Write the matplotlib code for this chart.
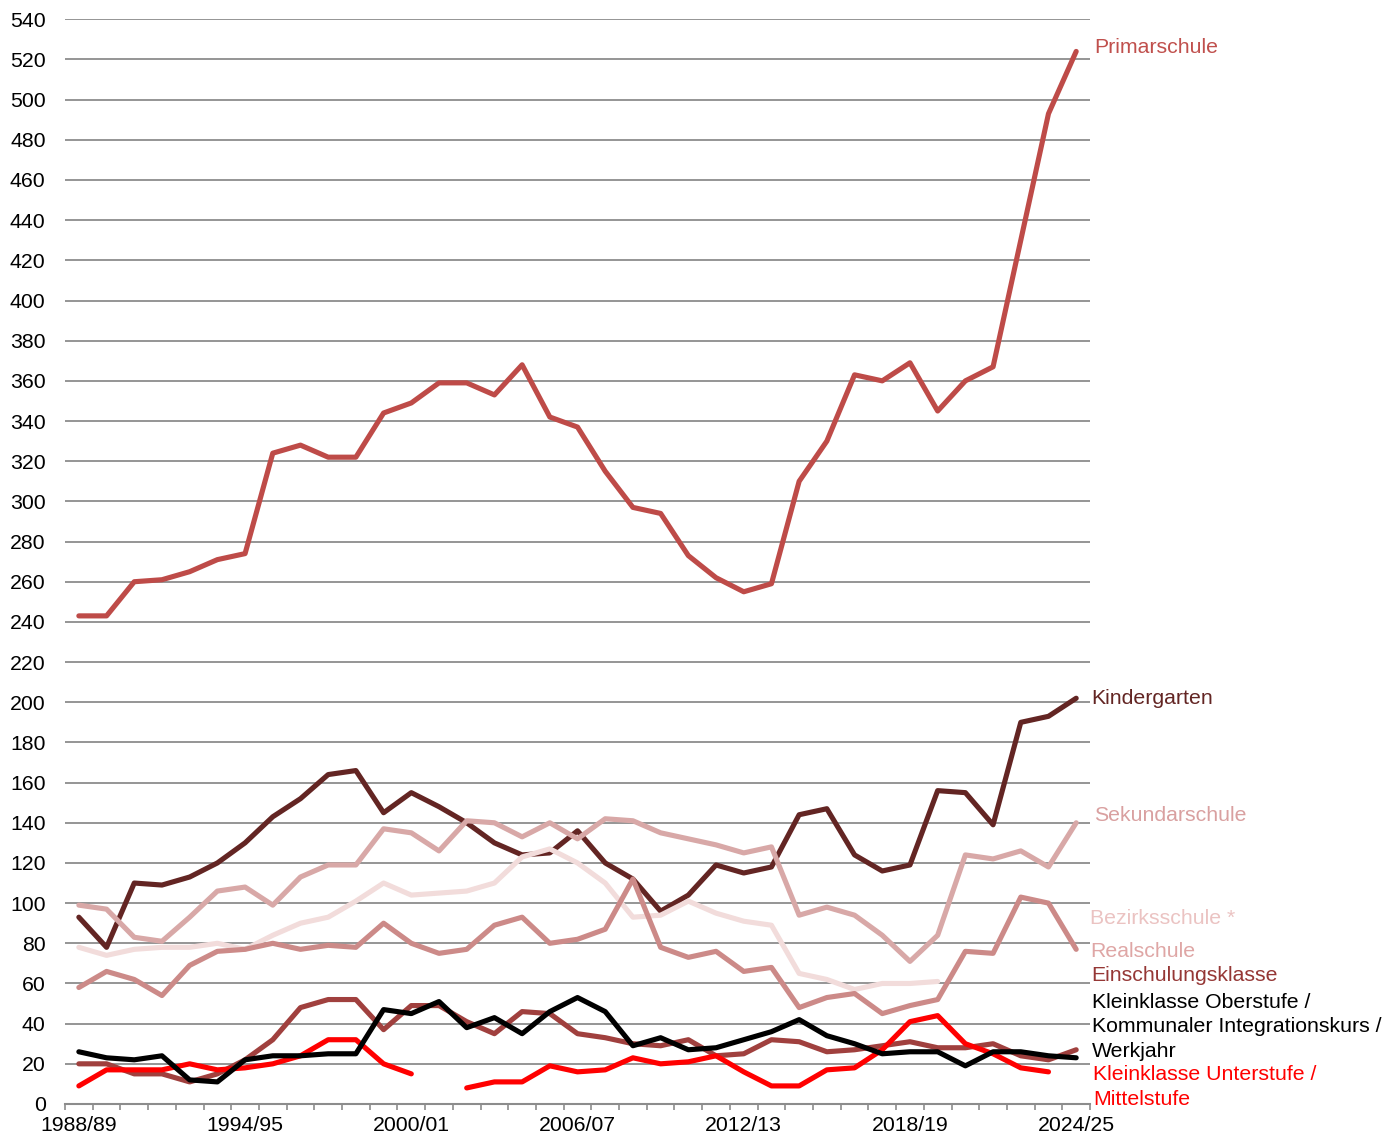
import numpy as np
from matplotlib import pyplot as plt

plt.rcParams['font.family'] = ['Liberation Sans', 'DejaVu Sans']

years = ["1988/89", "1989/90", "1990/91", "1991/92", "1992/93", "1993/94",
         "1994/95", "1995/96", "1996/97", "1997/98", "1998/99", "1999/00",
         "2000/01", "2001/02", "2002/03", "2003/04", "2004/05", "2005/06",
         "2006/07", "2007/08", "2008/09", "2009/10", "2010/11", "2011/12",
         "2012/13", "2013/14", "2014/15", "2015/16", "2016/17", "2017/18",
         "2018/19", "2019/20", "2020/21", "2021/22", "2022/23", "2023/24",
         "2024/25"]

nan = np.nan
primarschule = [243, 243, 260, 261, 265, 271, 274, 324, 328, 322, 322, 344, 349, 359, 359, 353,
                368, 342, 337, 315, 297, 294, 273, 262, 255, 259, 310, 330, 363, 360, 369, 345,
                360, 367, 430, 493, 524]
kindergarten = [93, 78, 110, 109, 113, 120, 130, 143, 152, 164, 166, 145, 155, 148, 140, 130,
                124, 125, 136, 120, 112, 96, 104, 119, 115, 118, 144, 147, 124, 116, 119, 156,
                155, 139, 190, 193, 202]
sekundarschule = [99, 97, 83, 81, 93, 106, 108, 99, 113, 119, 119, 137, 135, 126, 141, 140,
                  133, 140, 132, 142, 141, 135, 132, 129, 125, 128, 94, 98, 94, 84, 71, 84,
                  124, 122, 126, 118, 140]
bezirksschule = [78, 74, 77, 78, 78, 80, 77, 84, 90, 93, 101, 110, 104, 105, 106, 110,
                 123, 127, 120, 110, 93, 94, 101, 95, 91, 89, 65, 62, 57, 60, 60, 61,
                 nan, nan, nan, nan, nan]
realschule = [58, 66, 62, 54, 69, 76, 77, 80, 77, 79, 78, 90, 80, 75, 77, 89,
              93, 80, 82, 87, 112, 78, 73, 76, 66, 68, 48, 53, 55, 45, 49, 52,
              76, 75, 103, 100, 77]
einschulung = [20, 20, 15, 15, 11, 15, 22, 32, 48, 52, 52, 37, 49, 49, 41, 35,
               46, 45, 35, 33, 30, 29, 32, 24, 25, 32, 31, 26, 27, 29, 31, 28,
               28, 30, 24, 22, 27]
kk_oberstufe = [26, 23, 22, 24, 12, 11, 22, 24, 24, 25, 25, 47, 45, 51, 38, 43,
                35, 46, 53, 46, 29, 33, 27, 28, 32, 36, 42, 34, 30, 25, 26, 26,
                19, 26, 26, 24, 23]
kk_unterstufe = [9, 17, 17, 17, 20, 17, 18, 20, 24, 32, 32, 20, 15, nan, 8, 11,
                 11, 19, 16, 17, 23, 20, 21, 24, 16, 9, 9, 17, 18, 27, 41, 44,
                 30, 25, 18, 16, nan]

# (values, line colour, label lines, label colour, label x, label baselines)
series = [
    (primarschule, '#BE4B48', ["Primarschule"], '#C0504D', 36.66, [523.0]),
    (kindergarten, '#632523', ["Kindergarten"], '#632523', 36.55, [199.0]),
    (sekundarschule, '#D8A8A7', ["Sekundarschule"], '#D9A0A0', 36.63, [141.0]),
    (bezirksschule, '#F2DCDB', ["Bezirksschule *"], '#EBC3C2', 36.5, [89.8]),
    (realschule, '#CC8A88', ["Realschule"], '#DFA6A5', 36.5, [73.3]),
    (einschulung, '#A0403E', ["Einschulungsklasse"], '#953735', 36.54, [61.0]),
    (kk_unterstufe, '#FF0000', ["Kleinklasse Unterstufe /", "Mittelstufe"], '#FF0000',
     36.62, [11.8, -0.5]),
    (kk_oberstufe, '#000000', ["Kleinklasse Oberstufe /", "Kommunaler Integrationskurs /",
                               "Werkjahr"], '#000000', 36.56, [48.0, 35.6, 23.2]),
]

fig = plt.figure(figsize=(13.88, 11.4), dpi=100)
ax = fig.add_axes([0.04683, 0.03158, 0.7385, 0.9515])

x = np.arange(len(years))
for vals, col, lines, tcol, tx, ty in series:
    ax.plot(x, vals, color=col, lw=3.7, solid_capstyle='round', solid_joinstyle='round',
            zorder=3)
    for line, yy in zip(lines, ty):
        ax.text(tx, yy, line, color=tcol, fontsize=15.3, va='baseline', ha='left',
                clip_on=False)

ax.set_xlim(-0.5, len(years) - 0.5)
ax.set_ylim(0, 540)
ax.set_yticks(np.arange(0, 541, 20))
ax.yaxis.grid(True, color='#8C8C8C', lw=1.3)
ax.set_axisbelow(True)

ax.set_xticks(x[::6])
ax.set_xticklabels(years[::6])
ax.set_xticks(np.arange(-0.5, len(years), 1), minor=True)
ax.tick_params(axis='x', which='major', length=0, pad=9, labelsize=15.3)
ax.tick_params(axis='x', which='minor', length=4.5, width=1.2, color='#8C8C8C')
ax.tick_params(axis='y', length=0, pad=14, labelsize=15.3)

for s in ['top', 'right', 'left']:
    ax.spines[s].set_visible(False)
ax.spines['bottom'].set_color('#8C8C8C')
ax.spines['bottom'].set_linewidth(1.5)

plt.savefig("out.png", dpi=100)
